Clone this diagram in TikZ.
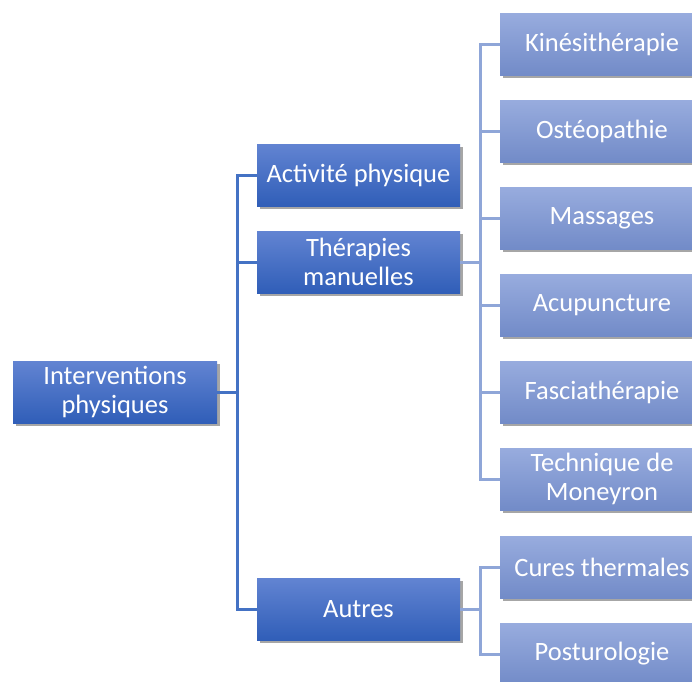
\documentclass[tikz,border=0pt]{standalone}
\usepackage{fontspec}
\setmainfont{Carlito}
\usetikzlibrary{shadows,calc}
\definecolor{lvonetop}{RGB}{98,132,210}
\definecolor{lvonebot}{RGB}{48,94,184}
\definecolor{lvtwotop}{RGB}{152,172,222}
\definecolor{lvtwobot}{RGB}{114,139,200}
\definecolor{conone}{RGB}{68,114,196}
\definecolor{contwo}{RGB}{143,166,216}
\tikzset{
  base/.style={rectangle, inner sep=0pt, align=center, text=white,
    font=\fontsize{26.5}{29}\selectfont,
    drop shadow={shadow xshift=2.5pt, shadow yshift=-3pt, opacity=0.35, fill=black}},
  boxone/.style={base, minimum width=203pt, minimum height=62pt,
    top color=lvonetop, bottom color=lvonebot},
  boxtwo/.style={base, minimum width=204pt, minimum height=62pt,
    top color=lvtwotop, bottom color=lvtwobot},
  linkone/.style={draw=conone, line width=3pt},
  linktwo/.style={draw=contwo, line width=3pt},
}
\begin{document}
\begin{tikzpicture}[x=1pt, y=-1pt]
\useasboundingbox (0,0) rectangle (692,681);
\clip (0,0) rectangle (692,681);
% root
\node[boxone, minimum width=204pt] (root) at (115,392) {Interventions\\physiques};
% level 1
\node[boxone] (act) at (358.5,175) {Activité physique};
\node[boxone] (ther) at (358.5,262) {Thérapies\\manuelles};
\node[boxone] (autres) at (358.5,609) {Autres};
% level 2
\node[boxtwo] (kine) at (602,44) {Kinésithérapie};
\node[boxtwo] (osteo) at (602,131) {Ostéopathie};
\node[boxtwo] (mass) at (602,218) {Massages};
\node[boxtwo] (acu) at (602,305) {Acupuncture};
\node[boxtwo] (fascia) at (602,392) {Fasciathérapie};
\node[boxtwo] (money) at (602,479) {Technique de\\Moneyron};
\node[boxtwo] (cures) at (602,567) {Cures thermales};
\node[boxtwo] (posturo) at (602,654) {Posturologie};
% connectors level 1
\coordinate (jroot) at ($(root.east)+(20,0)$);
\draw[linkone] (root.east) -- (jroot);
\draw[linkone] (jroot) |- (act.west);
\draw[linkone] (jroot) |- (ther.west);
\draw[linkone] (jroot) |- (autres.west);
% connectors level 2
\coordinate (jther) at ($(ther.east)+(20.5,0)$);
\draw[linktwo] (ther.east) -- (jther);
\foreach \n in {kine,osteo,mass,acu,fascia,money}
  \draw[linktwo] (jther) |- (\n.west);
\coordinate (jaut) at ($(autres.east)+(20.5,0)$);
\draw[linktwo] (autres.east) -- (jaut);
\draw[linktwo] (jaut) |- (cures.west);
\draw[linktwo] (jaut) |- (posturo.west);
\end{tikzpicture}
\end{document}
